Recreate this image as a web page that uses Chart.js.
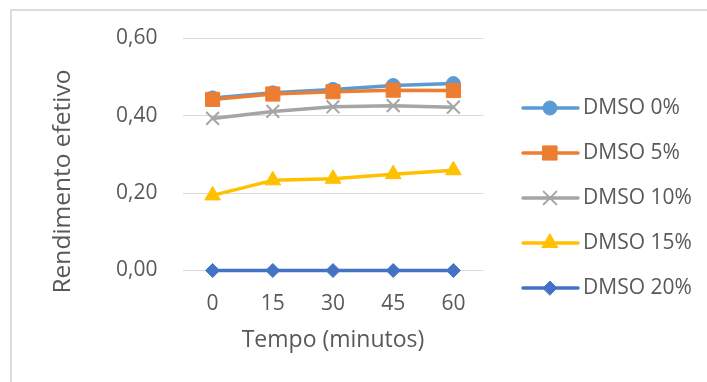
<!DOCTYPE html>
<html>
<head>
<meta charset="utf-8">
<script src="https://cdn.jsdelivr.net/npm/chart.js@4"></script>
<style>
  html, body { margin: 0; padding: 0; background: #fff; overflow: hidden; }
  #frame { position: absolute; left: 10px; top: 9px; width: 800px; height: 500px; border-left: 2px solid #dcdcdc; border-top: 2px solid #dcdcdc; }
  #myChart { position: absolute; left: 0; top: 0; }
</style>
</head>
<body>
<div id="frame"></div>
<canvas id="myChart" width="707" height="382"></canvas>
<script>
let tempos = ["0", "15", "30", "45", "60"];
let dmso0 = [0.446, 0.459, 0.468, 0.478, 0.483];
let dmso5 = [0.442, 0.456, 0.462, 0.466, 0.465];
let dmso10 = [0.393, 0.411, 0.423, 0.426, 0.422];
let dmso15 = [0.194, 0.233, 0.237, 0.249, 0.259];
let dmso20 = [0, 0, 0, 0, 0];
let yticks = [0, 0.2, 0.4, 0.6];
let ytitle = "Rendimento efetivo";
let xtitle = "Tempo (minutos)";

let textColor = "#595959";
let gridColor = "#d9d9d9";

let serie = (label, data, color, style, radius, order) => {
    return {
        label: label,
        data: data,
        borderColor: color,
        backgroundColor: color,
        borderWidth: 3.5,
        borderCapStyle: "round",
        borderJoinStyle: "round",
        pointStyle: style,
        pointRadius: radius,
        pointHoverRadius: radius,
        pointBackgroundColor: color,
        pointBorderColor: color,
        pointBorderWidth: style == "crossRot" ? 2 : 1,
        tension: 0,
        clip: false,
        // pas de cache Path2D : la ligne horizontale a 0 ne s'affichait pas
        segment: {},
        order: order
    };
};

// legende a droite (ligne + marqueur comme dans excel) et titre de l'axe y
let sideLegend = {
    id: "sideLegend",
    afterDraw(chart) {
        let ctx = chart.ctx;
        ctx.save();
        chart.data.datasets.forEach((ds, i) => {
            let y = 108 + i * 45;
            ctx.strokeStyle = ds.borderColor;
            ctx.lineWidth = ds.borderWidth;
            ctx.lineCap = "round";
            ctx.beginPath();
            ctx.moveTo(523, y);
            ctx.lineTo(578, y);
            ctx.stroke();
            ctx.fillStyle = ds.pointBackgroundColor;
            ctx.strokeStyle = ds.pointBorderColor;
            ctx.lineWidth = ds.pointBorderWidth;
            Chart.helpers.drawPoint(ctx, { pointStyle: ds.pointStyle, radius: ds.pointRadius, borderWidth: ds.pointBorderWidth, rotation: 0 }, 550, y);
            ctx.fillStyle = textColor;
            ctx.font = '21px "Open Sans"';
            ctx.textAlign = "left";
            ctx.textBaseline = "middle";
            ctx.fillText(ds.label, 583, y);
        });
        // titre y centre sur toute la hauteur comme excel
        ctx.translate(63, 181.5);
        ctx.rotate(-Math.PI / 2);
        ctx.fillStyle = textColor;
        ctx.font = '24.5px "Open Sans"';
        ctx.textAlign = "center";
        ctx.textBaseline = "middle";
        ctx.fillText(ytitle, 0, 0);
        ctx.restore();
    }
};

let ctx = document.getElementById("myChart").getContext("2d");
let chart = new Chart(ctx, {
    type: "line",
    data: {
        labels: tempos,
        datasets: [
            serie("DMSO 0%", dmso0, "#5B9BD5", "circle", 7, 5),
            serie("DMSO 5%", dmso5, "#ED7D31", "rect", 10, 4),
            serie("DMSO 10%", dmso10, "#A5A5A5", "crossRot", 9, 3),
            serie("DMSO 15%", dmso15, "#FFC000", "triangle", 9, 2),
            serie("DMSO 20%", dmso20, "#4472C4", "rectRot", 7, 1)
        ]
    },
    options: {
        responsive: false,
        animation: false,
        layout: { padding: { top: 38.3, right: 223.5, bottom: 0, left: 0 } },
        plugins: {
            legend: { display: false },
            tooltip: { enabled: false }
        },
        scales: {
            x: {
                type: "category",
                offset: true,
                grid: { display: false },
                border: { display: false },
                ticks: { color: textColor, font: { family: "Open Sans", size: 21 }, padding: 13 },
                title: { display: true, text: xtitle, color: textColor, font: { family: "Open Sans", size: 23 }, padding: { top: 0, bottom: 28 } },
                afterFit: (scale) => { scale.height = 111.5; }
            },
            y: {
                min: 0,
                max: 0.6,
                grid: { color: gridColor, lineWidth: 1, drawTicks: false },
                border: { display: false },
                afterBuildTicks: (scale) => { scale.ticks = yticks.map(v => ({ value: v })); },
                ticks: {
                    color: textColor,
                    font: { family: "Open Sans", size: 21 },
                    padding: 25,
                    callback: (v) => v.toFixed(2).replace(".", ",")
                },
                title: { display: false },
                afterFit: (scale) => { scale.width = 182.5; }
            }
        }
    },
    plugins: [sideLegend]
});
</script>
</body>
</html>
